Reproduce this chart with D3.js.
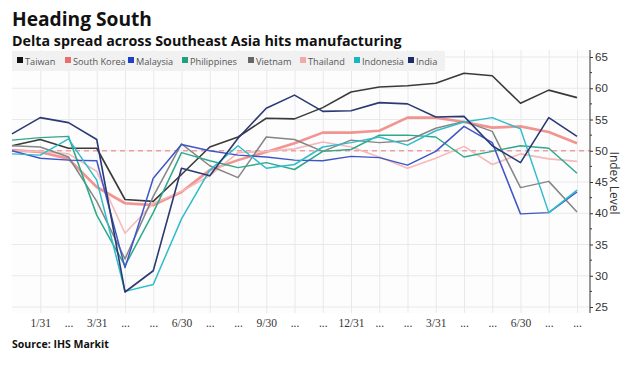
<!DOCTYPE html>
<html><head><meta charset="utf-8">
<script src="https://cdn.jsdelivr.net/npm/d3@7"></script>
<style>body{margin:0;background:#fff;} svg{display:block;}</style>
</head><body>
<script>
// ---- DATA ----
const months = ["2019-12","2020-01","2020-02","2020-03","2020-04","2020-05","2020-06","2020-07","2020-08","2020-09","2020-10","2020-11","2020-12","2021-01","2021-02","2021-03","2021-04","2021-05","2021-06","2021-07","2021-08"];
const xLabels = ["","1/31","...","3/31","...","...","6/30","...","...","9/30","...","...","12/31","...","...","3/31","...","...","6/30","...","..."];
const countries = ["Taiwan","South Korea","Malaysia","Philippines","Vietnam","Thailand","Indonesia","India"];
const taiwan      = [50.8,51.8,50.4,50.4,42.2,41.9,46.2,50.6,52.2,55.2,55.1,56.9,59.4,60.2,60.4,60.8,62.4,62.0,57.6,59.7,58.5];
const southKorea  = [50.1,49.8,48.7,44.2,41.6,41.3,43.4,46.9,48.5,49.8,51.2,52.9,52.9,53.2,55.3,55.3,54.6,53.7,53.9,53.0,51.2];
const malaysia    = [50.0,48.8,48.5,48.4,31.3,45.6,51.0,50.0,49.3,49.0,48.5,48.4,49.1,48.9,47.7,49.9,53.9,51.3,39.9,40.1,43.4];
const philippines = [51.7,52.1,52.3,39.7,31.6,40.1,49.7,48.4,47.3,48.1,47.0,49.9,50.2,52.5,52.5,52.2,49.0,49.9,50.8,50.4,46.4];
const vietnam     = [50.8,50.6,49.0,41.9,32.7,42.7,51.1,47.6,45.7,52.2,51.8,49.9,51.7,51.3,51.6,53.6,54.7,53.1,44.1,45.1,40.2];
const thailand    = [50.0,49.9,49.5,46.7,36.8,41.6,43.5,46.0,49.7,49.9,50.3,51.4,50.6,49.0,47.2,48.8,50.7,47.8,49.5,48.7,48.3];
const indonesia   = [49.5,49.3,51.9,45.3,27.5,28.6,39.1,46.9,50.8,47.2,47.8,50.6,51.3,52.2,50.9,53.2,54.6,55.3,53.5,40.1,43.7];
const india       = [52.7,55.3,54.5,51.8,27.4,30.8,47.2,46.0,52.0,56.8,58.9,56.3,56.4,57.7,57.5,55.4,55.5,50.8,48.1,55.3,52.3];
const yTicks = [25,30,35,40,45,50,55,60,65];
const threshold = 50;

const seriesValues = [taiwan, southKorea, malaysia, philippines, vietnam, thailand, indonesia, india];
const lineColors   = ["#3a3a3a","#ef837e","#3f56c6","#2ea98b","#858585","#f6b8b8","#2fbccb","#2b3a73"];
const legendColors = ["#111111","#ea6f6c","#1f3fc8","#1fa17e","#666666","#f2a9a9","#1ab5c5","#1b2b6b"];
const lineWidths   = [1.6,2.6,1.5,1.5,1.5,1.6,1.5,1.6];

// ---- LAYOUT ----
const W = 639, H = 365;
const plot = {left:12, right:590, top:50, bottom:313};
const svg = d3.select("body").append("svg").attr("width",W).attr("height",H)
  .style("font-family","'Open Sans', 'DejaVu Sans', sans-serif");

const x = d3.scalePoint().domain(months).range([12, 577]);
const y = d3.scaleLinear().domain([25,65]).range([307,57]);

function fit(sel, target){
  const n = sel.node(); const w = n.getComputedTextLength();
  const fs = parseFloat(sel.attr("font-size"));
  sel.attr("font-size", (fs*target/w).toFixed(2));
}

// plot background
svg.append("rect").attr("x",plot.left).attr("y",plot.top)
  .attr("width",plot.right-plot.left).attr("height",plot.bottom-plot.top).attr("fill","#fdfdfd");

// grid - horizontal
svg.append("g").selectAll("line").data(yTicks).join("line")
  .attr("x1",plot.left).attr("x2",plot.right)
  .attr("y1",d=>y(d)).attr("y2",d=>y(d))
  .attr("stroke","#e9e9ec").attr("stroke-width",1);
// grid - vertical (bottom axis with long ticks)
const xAxis = d3.axisBottom(x).tickValues(months.slice(1))
  .tickSize(-(plot.bottom-plot.top)).tickFormat((d)=>xLabels[months.indexOf(d)]).tickPadding(5);
const gx = svg.append("g").attr("transform",`translate(0,${plot.bottom})`).call(xAxis);
gx.select(".domain").remove();
gx.selectAll(".tick line").attr("stroke","#e9e9ec");
gx.selectAll(".tick text").attr("fill","#333").attr("font-size",11.5)
  .attr("font-family","'Liberation Serif','DejaVu Serif',serif").attr("dy","0.75em");

// legend band
svg.append("rect").attr("x",plot.left).attr("y",51).attr("width",433).attr("height",20).attr("fill","#f1f1f2");
const legendSquareX = [17,65,128,182,248,300,354,408];
const lg = svg.append("g");
countries.forEach((c,i)=>{
  lg.append("rect").attr("x",legendSquareX[i]).attr("y",57).attr("width",6).attr("height",6).attr("fill",legendColors[i]);
  lg.append("text").attr("x",legendSquareX[i]+8).attr("y",64.5).attr("font-size",9.2)
    .attr("fill","#555").text(c);
});

// threshold dashed line
svg.append("line").attr("x1",plot.left).attr("x2",plot.right)
  .attr("y1",y(threshold)).attr("y2",y(threshold))
  .attr("stroke","#eb9fa3").attr("stroke-width",1.3).attr("stroke-dasharray","5,4");

// lines
const line = d3.line().x((d,i)=>x(months[i])).y(d=>y(d));
const order = [1,5,0,4,3,2,6,7];
order.forEach(i=>{
  svg.append("path").datum(seriesValues[i]).attr("d",line)
    .attr("fill","none").attr("stroke",lineColors[i]).attr("stroke-width",lineWidths[i])
    .attr("stroke-linejoin","round").attr("opacity", i===1?0.85:1);
});

// right axis
const yAxis = d3.axisRight(y).tickValues(yTicks).tickSize(3).tickPadding(2);
const gy = svg.append("g").attr("transform",`translate(${plot.right},0)`).call(yAxis);
gy.select(".domain").attr("d",`M0,${plot.top}V${plot.bottom}`).attr("stroke","#333");
gy.selectAll(".tick line").attr("stroke","#333");
gy.selectAll(".tick text").attr("fill","#333").attr("font-size",11.5);
const minor = d3.range(27.5,65,5);
gy.append("g").selectAll("line").data(minor).join("line")
  .attr("x1",0).attr("x2",2).attr("y1",d=>y(d)).attr("y2",d=>y(d)).attr("stroke","#333");
svg.append("text").attr("transform",`translate(610,183) rotate(90)`).attr("text-anchor","middle")
  .attr("font-size",12).attr("fill","#333").text("Index Level");

// titles
const t1 = svg.append("text").attr("x",12).attr("y",26).attr("font-size",19).attr("font-weight","bold")
  .attr("fill","#111").text("Heading South");
fit(t1,140);
const t2 = svg.append("text").attr("x",12).attr("y",45.5).attr("font-size",13.5).attr("font-weight","bold")
  .attr("fill","#111").text("Delta spread across Southeast Asia hits manufacturing");
fit(t2,390);
const s = svg.append("text").attr("x",12).attr("y",348).attr("font-size",9.5).attr("font-weight","bold")
  .attr("fill","#111").text("Source: IHS Markit");
fit(s,97);
</script>
</body></html>
